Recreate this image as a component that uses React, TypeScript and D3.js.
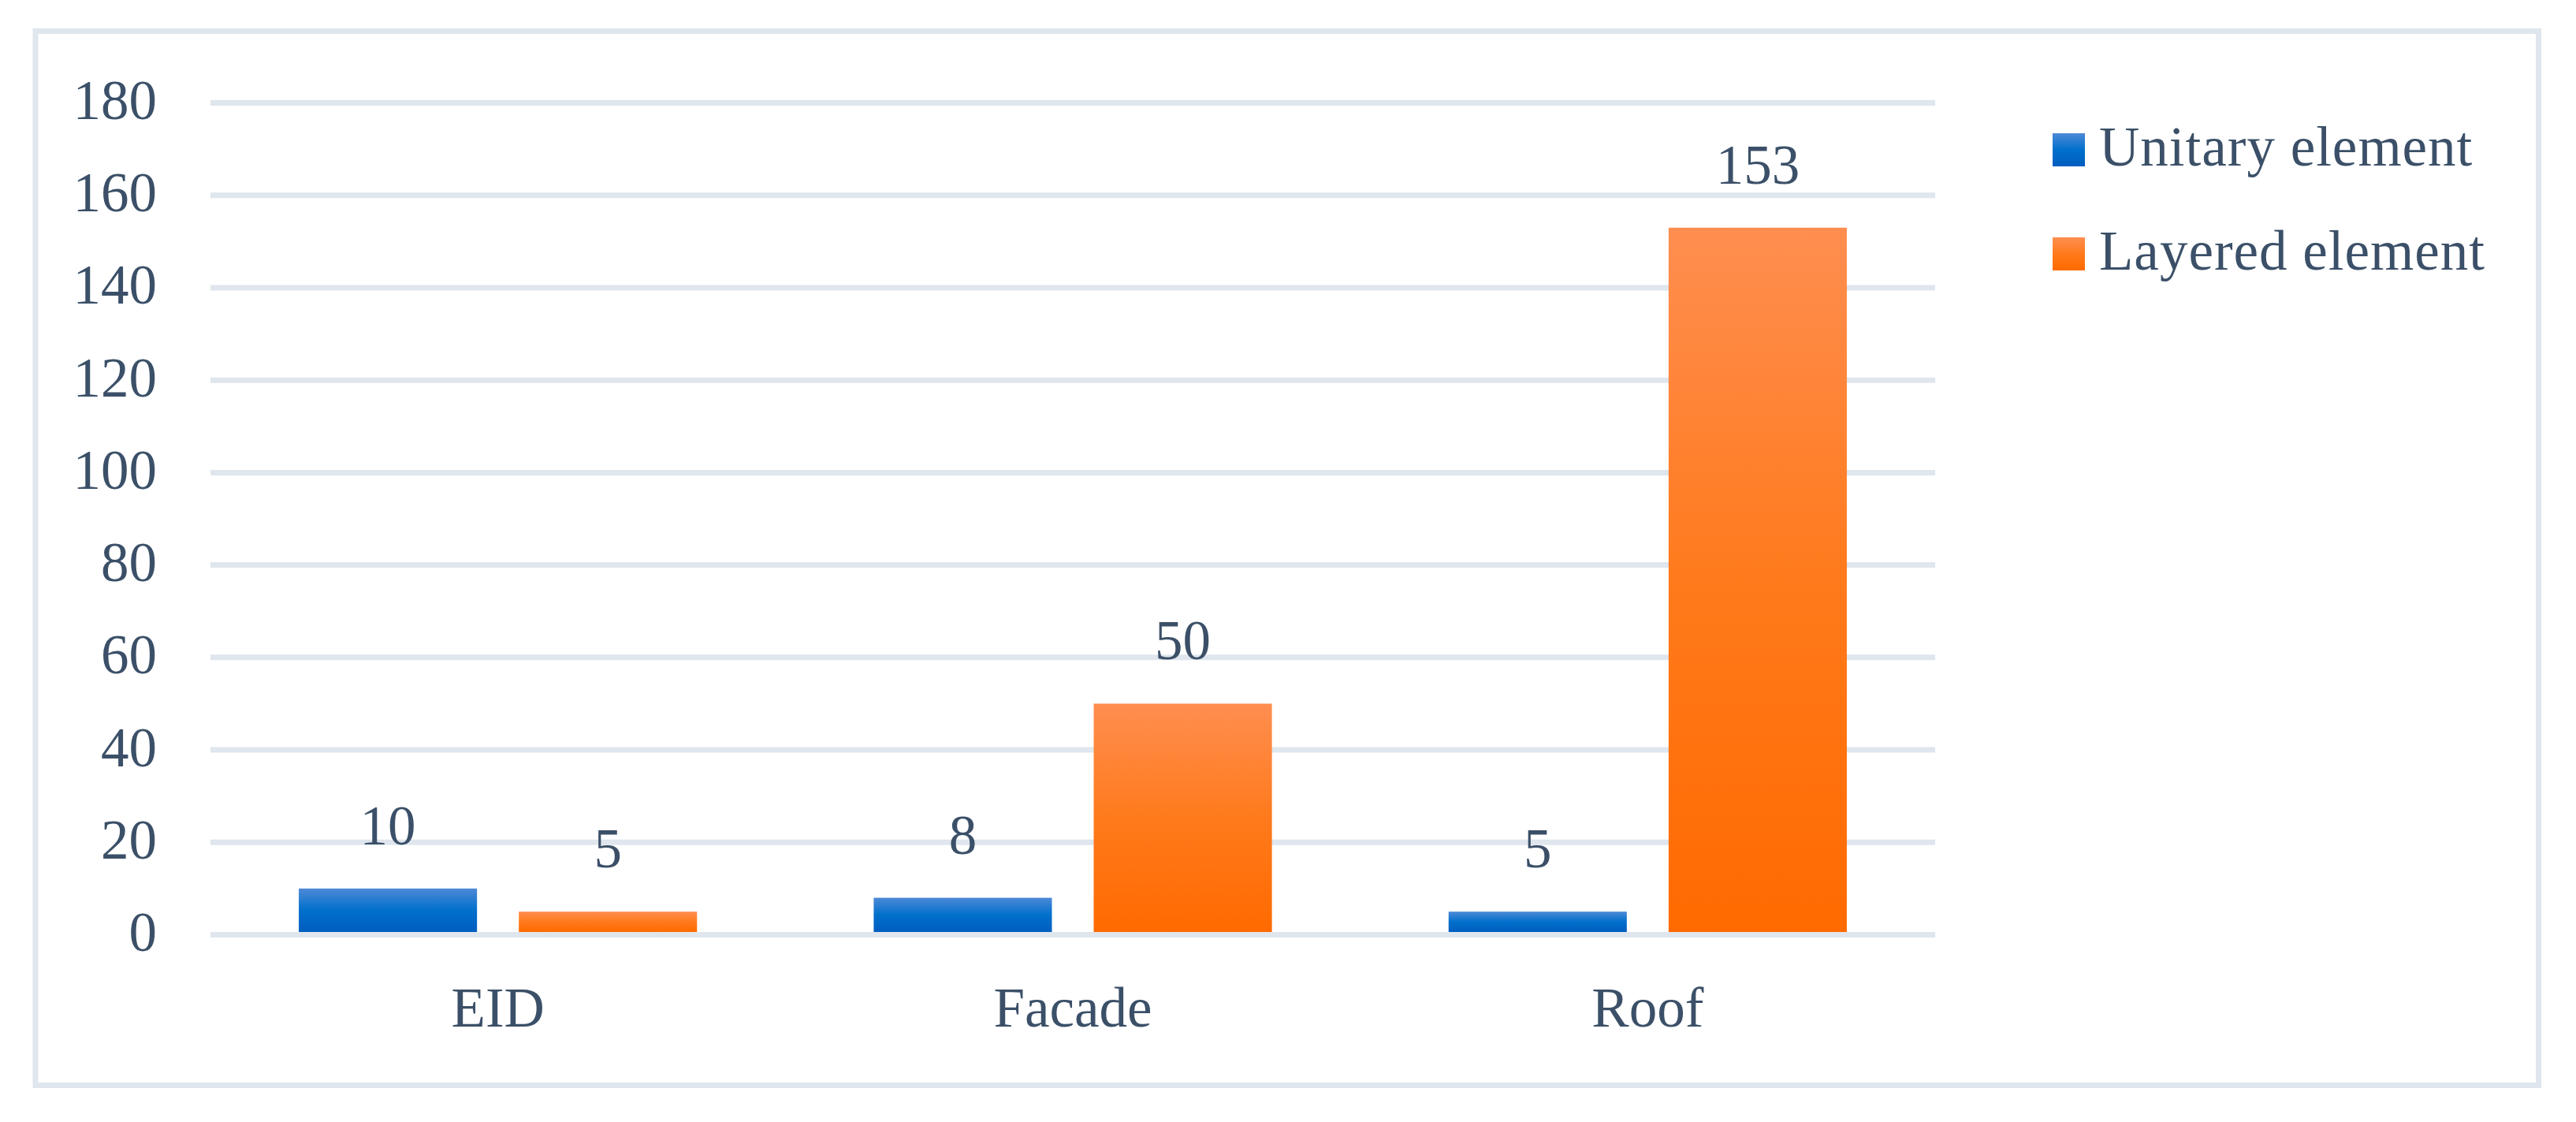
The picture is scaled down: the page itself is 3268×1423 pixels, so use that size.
import React from "react";
import * as d3 from "d3";

const categories = ["EID", "Facade", "Roof"];
const seriesNames = ["Unitary element", "Layered element"];
const unitary = [10, 8, 5];
const layered = [5, 50, 153];
const yTicks = [0, 20, 40, 60, 80, 100, 120, 140, 160, 180];

const W = 3268;
const H = 1423;
const TEXT = "#3b5068";
const GRID = "#dfe6ed";
const FONT = "'Liberation Serif', 'Times New Roman', serif";
const FS = 71;

export default function App() {
  const x0 = d3.scaleBand<string>().domain(categories).range([267, 2455]).padding(0);
  const x1 = d3
    .scaleBand<string>()
    .domain(seriesNames)
    .range([0, x0.bandwidth()])
    .paddingInner(0.19)
    .paddingOuter(0.4015);
  const y = d3.scaleLinear().domain([0, 180]).range([1185.5, 130.5]);
  const values = [unitary, layered];
  const gradIds = ["gradBlue", "gradOrange"];

  return (
    <svg
      width={W}
      height={H}
      style={{ position: "absolute", left: 0, top: 0, display: "block", background: "#fff" }}
    >
      <defs>
        <linearGradient id="gradBlue" x1="0" y1="0" x2="0" y2="1">
          <stop offset="0" stopColor="#4e89d6" />
          <stop offset="0.5" stopColor="#0070cc" />
          <stop offset="1" stopColor="#005dbf" />
        </linearGradient>
        <linearGradient id="gradOrange" x1="0" y1="0" x2="0" y2="1">
          <stop offset="0" stopColor="#ff8e50" />
          <stop offset="0.5" stopColor="#ff7a1c" />
          <stop offset="1" stopColor="#ff6a00" />
        </linearGradient>
      </defs>
      <rect x={0} y={0} width={W} height={H} fill="#fff" />
      <rect x={45} y={39.5} width={3175.5} height={1337} fill="none" stroke={GRID} strokeWidth={7} />

      {yTicks.map((t) => (
        <g key={t}>
          <line x1={267} x2={2455} y1={y(t)} y2={y(t)} stroke={GRID} strokeWidth={7} />
          <text
            x={199}
            y={y(t) + 20.5}
            textAnchor="end"
            fontFamily={FONT}
            fontSize={FS}
            fill={TEXT}
          >
            {t}
          </text>
        </g>
      ))}

      {categories.map((c, ci) => (
        <g key={c} transform={`translate(${x0(c)},0)`}>
          {seriesNames.map((s, si) => {
            const v = values[si][ci];
            const bx = x1(s) as number;
            const bw = x1.bandwidth();
            return (
              <g key={s}>
                <rect
                  x={bx}
                  y={y(v)}
                  width={bw}
                  height={y(0) - 3.5 - y(v)}
                  fill={`url(#${gradIds[si]})`}
                />
                <text
                  x={bx + bw / 2}
                  y={y(v) - 56}
                  textAnchor="middle"
                  fontFamily={FONT}
                  fontSize={FS}
                  fill={TEXT}
                >
                  {v}
                </text>
              </g>
            );
          })}
          <text
            x={x0.bandwidth() / 2}
            y={1302}
            textAnchor="middle"
            fontFamily={FONT}
            fontSize={FS}
            fill={TEXT}
          >
            {c}
          </text>
        </g>
      ))}

      {seriesNames.map((s, si) => (
        <g key={s} transform={`translate(0,${si * 132})`}>
          <rect x={2604} y={169} width={41} height={42} fill={`url(#${gradIds[si]})`} />
          <text x={2663} y={210} fontFamily={FONT} fontSize={FS} fill={TEXT} letterSpacing={1}>
            {s}
          </text>
        </g>
      ))}
    </svg>
  );
}
